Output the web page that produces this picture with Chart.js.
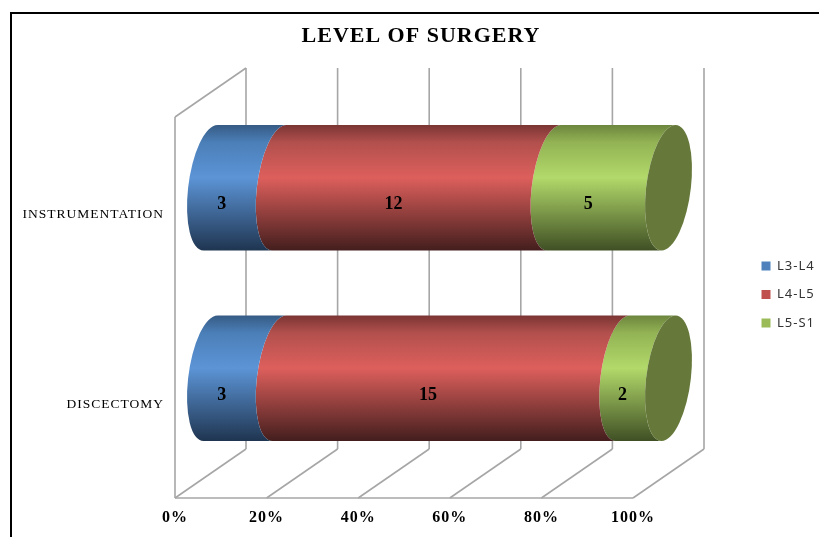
<!DOCTYPE html>
<html>
<head>
<meta charset="utf-8">
<title>Level of surgery</title>
<script src="https://cdn.jsdelivr.net/npm/chart.js@4"></script>
<style>
  html, body { margin: 0; padding: 0; background: #fff; overflow: hidden; }
  canvas { display: block; }
</style>
</head>
<body>
<canvas id="chartNivel" width="819" height="537"></canvas>
<script>
const categorias = ['INSTRUMENTATION', 'DISCECTOMY'];
const niveis = ['L3-L4', 'L4-L5', 'L5-S1'];
const casosL3L4 = [3, 3];
const casosL4L5 = [12, 15];
const casosL5S1 = [5, 2];
const marcasEixo = [0, 20, 40, 60, 80, 100];

const coresLegenda = ['#4f81bd', '#c0504d', '#9bbb59'];
const coresCilindro = [
  ['#365b84', '#4b7fb8', '#5c94d6', '#1f3550'],
  ['#7a3533', '#b2504d', '#dd5f5c', '#431e1d'],
  ['#6c853d', '#93b354', '#b2d96a', '#3f4f24']
];
const corTampa = '#66793a';
const corParede = '#a6a6a6';

// profundidade da caixa 3D
const fundoX = 71;
const fundoY = -49;
// forma da elipse do cilindro
const raioElipse = 22.4;
const inclinacao = 7;

const series = [casosL3L4, casosL4L5, casosL5S1];
const totais = categorias.map((_, i) => series.reduce((soma, s) => soma + s[i], 0));

const fonteSerif = '"Liberation Serif", "Times New Roman", serif';

function linha(ctx, x1, y1, x2, y2) {
  ctx.beginPath();
  ctx.moveTo(x1, y1);
  ctx.lineTo(x2, y2);
  ctx.stroke();
}

// moldura preta e paredes da caixa
const paredes = {
  id: 'paredes',
  beforeDraw(chart) {
    const { ctx, chartArea, scales } = chart;
    ctx.save();
    ctx.strokeStyle = '#000';
    ctx.lineWidth = 2;
    linha(ctx, 10, 13, 819, 13);
    linha(ctx, 11, 13, 11, 537);

    ctx.strokeStyle = corParede;
    ctx.lineWidth = 1.6;
    const { left, top, bottom } = chartArea;
    linha(ctx, left, bottom, scales.x.right, bottom);
    linha(ctx, left, top, left, bottom);
    linha(ctx, left, top, left + fundoX, top + fundoY);
    marcasEixo.forEach(m => {
      const x = scales.x.getPixelForValue(m);
      linha(ctx, x, bottom, x + fundoX, bottom + fundoY);
      linha(ctx, x + fundoX, bottom + fundoY, x + fundoX, top + fundoY);
    });
    ctx.restore();
    ctx.letterSpacing = '1px';
  }
};

// cada barra vira um trecho de cilindro deitado
const cilindros = {
  id: 'cilindros',
  beforeDatasetDraw(chart, args) {
    const { ctx } = chart;
    const barras = args.meta.data;
    const cores = coresCilindro[args.index];
    barras.forEach(barra => {
      const b = barra.height / 2;
      const cy = barra.y + fundoY / 2;
      const x0 = barra.base + fundoX / 2;
      const x1 = barra.x + fundoX / 2;
      const grad = ctx.createLinearGradient(0, cy - b, 0, cy + b);
      grad.addColorStop(0, cores[0]);
      grad.addColorStop(0.14, cores[1]);
      grad.addColorStop(0.42, cores[2]);
      grad.addColorStop(1, cores[3]);

      ctx.save();
      ctx.transform(1, 0, -inclinacao / b, 1, inclinacao / b * cy, 0);
      ctx.beginPath();
      ctx.ellipse(x0, cy, raioElipse, b, 0, Math.PI / 2, Math.PI * 1.5);
      ctx.ellipse(x1, cy, raioElipse, b, 0, Math.PI * 1.5, Math.PI / 2, true);
      ctx.closePath();
      ctx.fillStyle = grad;
      ctx.fill();
      if (args.index === series.length - 1) {
        ctx.beginPath();
        ctx.ellipse(x1, cy, raioElipse, b, 0, 0, Math.PI * 2);
        ctx.fillStyle = corTampa;
        ctx.fill();
      }
      ctx.restore();
    });
    return false;
  },
  afterDatasetsDraw(chart) {
    const { ctx } = chart;
    ctx.save();
    ctx.letterSpacing = '0px';
    ctx.font = 'bold 18px ' + fonteSerif;
    ctx.fillStyle = '#000';
    ctx.textAlign = 'center';
    ctx.textBaseline = 'middle';
    series.forEach((serie, s) => {
      chart.getDatasetMeta(s).data.forEach((barra, i) => {
        const meio = (barra.base + barra.x) / 2 + fundoX / 2;
        ctx.fillText(serie[i], meio - 23, barra.y + fundoY / 2 + 17);
      });
    });
    ctx.restore();
  }
};

// legenda e titulo ficam fora da area calculada pelo layout
const posicoes = {
  id: 'posicoes',
  afterLayout(chart) {
    const legenda = chart.legend;
    legenda.left = 746;
    legenda.right = 819;
    legenda.top = 244;
    legenda.bottom = 498;
    chart.titleBlock.left = 23;
    chart.titleBlock.right = 819;
  }
};

new Chart(document.getElementById('chartNivel'), {
  type: 'bar',
  plugins: [paredes, cilindros, posicoes],
  data: {
    labels: categorias,
    datasets: niveis.map((nivel, s) => ({
      label: nivel,
      data: series[s].map((v, i) => v / totais[i] * 100),
      backgroundColor: coresLegenda[s]
    }))
  },
  options: {
    indexAxis: 'y',
    responsive: false,
    animation: false,
    layout: { padding: { left: 0, right: 186, top: 0, bottom: 0 } },
    datasets: { bar: { categoryPercentage: 1, barPercentage: 0.66 } },
    scales: {
      x: {
        stacked: true,
        min: 0,
        max: 100,
        grid: { display: false },
        border: { display: false },
        afterFit(escala) { escala.height = 39; },
        ticks: {
          stepSize: 20,
          padding: 2,
          maxRotation: 0,
          color: '#000',
          font: { family: fonteSerif, size: 16, weight: 'bold' },
          callback: v => v + '%'
        }
      },
      y: {
        stacked: true,
        grid: { display: false },
        border: { display: false },
        afterFit(escala) { escala.width = 175; },
        ticks: {
          padding: 3,
          labelOffset: 2,
          color: '#000',
          font: { family: fonteSerif, size: 13.5 }
        }
      }
    },
    plugins: {
      title: {
        display: true,
        text: 'LEVEL OF SURGERY',
        color: '#000',
        font: { family: fonteSerif, size: 22, weight: 'bold', lineHeight: 1.2 },
        padding: { top: 23, bottom: 67.6 }
      },
      legend: {
        position: 'chartArea',
        align: 'start',
        labels: {
          boxWidth: 9,
          boxHeight: 9,
          padding: 15.5,
          color: '#333',
          font: { family: '"Noto Sans"', size: 13 }
        }
      }
    }
  }
});
</script>
</body>
</html>
